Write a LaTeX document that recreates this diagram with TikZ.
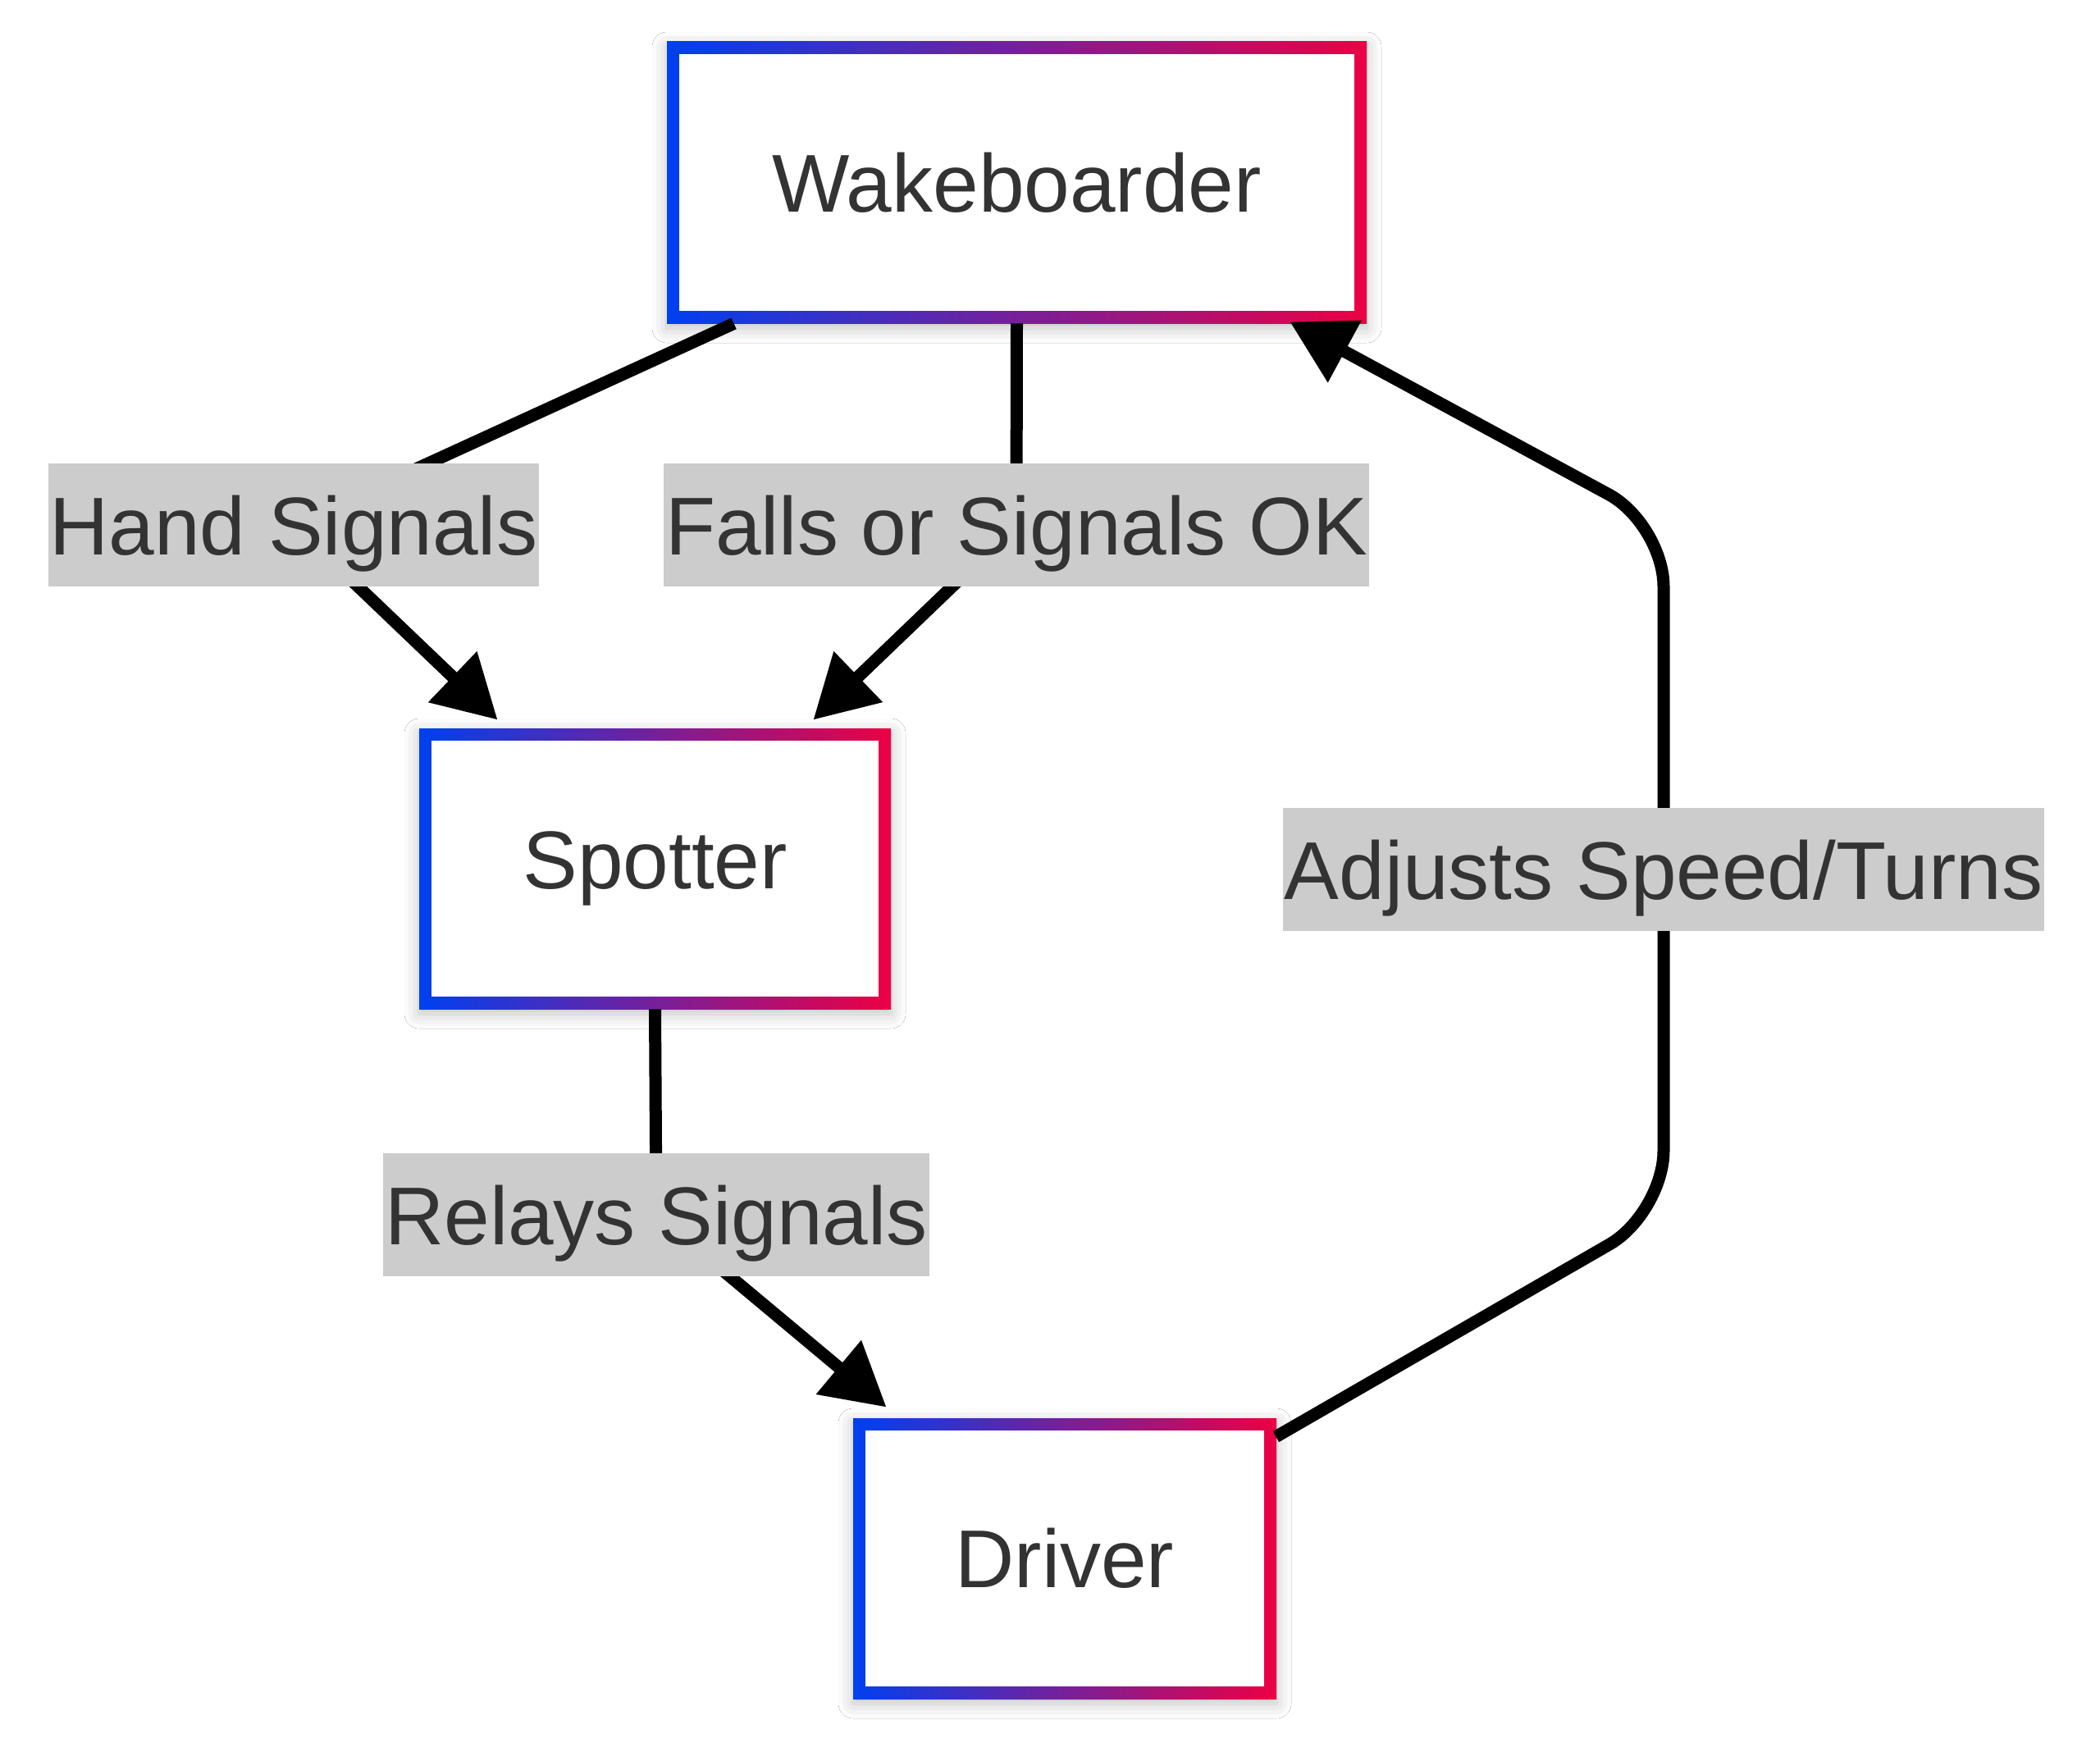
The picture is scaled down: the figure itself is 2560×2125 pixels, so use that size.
\documentclass[tikz,border=0pt]{standalone}
\usepackage{fontspec}
\setmainfont{Liberation Sans}
\usetikzlibrary{arrows.meta,shadows.blur}
\definecolor{gblue}{RGB}{0,64,240}
\definecolor{gred}{RGB}{236,0,68}
\definecolor{txt}{HTML}{333333}
\definecolor{lblbg}{HTML}{CCCCCC}
\tikzset{
  gbox/.style={minimum height=171pt, inner sep=0pt, fill=white, text=txt,
    font=\fontsize{50}{60}\selectfont,
    blur shadow={shadow xshift=0pt, shadow yshift=-3pt, shadow blur radius=9pt, shadow opacity=25},
    path picture={
      \shade[left color=gblue,right color=gred] (path picture bounding box.south west) rectangle (path picture bounding box.north east);
      \fill[white] ([shift={(7.5pt,7.5pt)}]path picture bounding box.south west) rectangle ([shift={(-7.5pt,-7.5pt)}]path picture bounding box.north east);
    }},
  lbl/.style={fill=lblbg, text=txt, font=\fontsize{50}{60}\selectfont,
    inner xsep=1pt, inner ysep=0pt, minimum height=75pt, text height=36pt, text depth=0pt},
  conn/.style={line width=7.5pt, draw=black, -{Triangle[length=38pt,width=41pt]}},
}
\begin{document}
\begin{tikzpicture}[x=0.5pt,y=-0.5pt]
\fill[white] (0,0) rectangle (2560,2125);
\useasboundingbox (0,0) rectangle (2560,2125);

\node[gbox, minimum width=426.5pt, minimum height=171.5pt] (wk) at (1239.5,222.5) {Wakeboarder};
\node[gbox, minimum width=287.5pt] (sp) at (798.5,1059) {Spotter};
\node[gbox, minimum width=258pt] (dr) at (1298,1900) {Driver};

\coordinate (c1) at (358,640);
\coordinate (c2) at (1239,640);
\coordinate (c3) at (800,1481);
\coordinate (c4) at (2028,1060);
\coordinate (b1) at (2028,1479);
\coordinate (b2) at (2028,639);

\draw[conn] ([xshift=41pt]wk.south west) -- (c1) -- ([xshift=48pt,yshift=5pt]sp.north west);
\draw[conn] (wk.south) -- (c2) -- ([xshift=-47.5pt,yshift=5pt]sp.north east);
\draw[conn] (sp.south) -- (c3) -- ([xshift=20.5pt,yshift=6.5pt]dr.north west);
\draw[conn, rounded corners=38pt] ([xshift=-0.5pt,yshift=-11.5pt]dr.north east) -- (b1) -- (b2) -- ([xshift=-47pt,yshift=1pt]wk.south east);

\node[lbl] (l1) at (c1) {Hand Signals};
\node[lbl] (l2) at (c2) {Falls or Signals OK};
\node[lbl] (l3) at (c3) {Relays Signals};
\node[lbl] (l4) at (c4) {Adjusts Speed/Turns};
\end{tikzpicture}
\end{document}
